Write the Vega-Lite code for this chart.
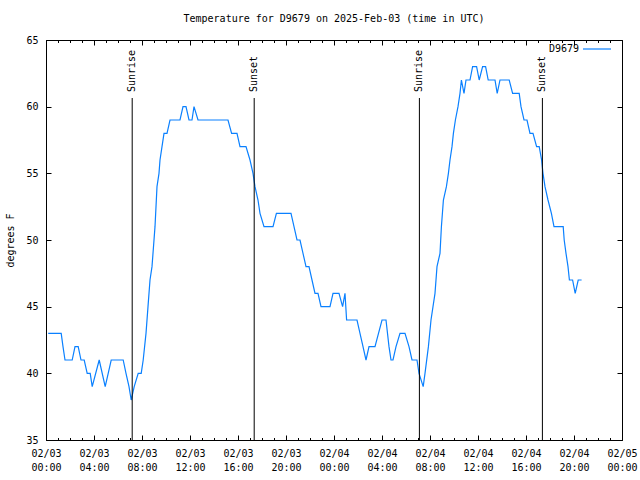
{
  "$schema": "https://vega.github.io/schema/vega-lite/v6.json",
  "width": 576,
  "height": 400,
  "autosize": "none",
  "padding": {"left": 46, "top": 40, "right": 18, "bottom": 40},
  "background": "white",
  "config": {
    "font": "DejaVu Sans Mono",
    "view": {"stroke": "black", "strokeWidth": 1},
    "axis": {"domain": false, "grid": false, "labelFont": "DejaVu Sans Mono", "labelFontSize": 10, "labelColor": "black", "tickColor": "black", "titleFont": "DejaVu Sans Mono", "titleFontSize": 10, "titleFontWeight": "normal", "titleColor": "black"}
  },
  "title": {"text": "Temperature for D9679 on 2025-Feb-03 (time in UTC)", "font": "DejaVu Sans Mono", "fontSize": 10, "fontWeight": "normal", "color": "black", "offset": 10},
  "datasets": {
    "temps": [
      {"time": "2025-02-03T00:11:00Z", "temp": 43},
      {"time": "2025-02-03T01:16:00Z", "temp": 43},
      {"time": "2025-02-03T01:25:00Z", "temp": 42},
      {"time": "2025-02-03T01:35:00Z", "temp": 41},
      {"time": "2025-02-03T02:11:00Z", "temp": 41},
      {"time": "2025-02-03T02:25:00Z", "temp": 42},
      {"time": "2025-02-03T02:41:00Z", "temp": 42},
      {"time": "2025-02-03T02:55:00Z", "temp": 41},
      {"time": "2025-02-03T03:11:00Z", "temp": 41},
      {"time": "2025-02-03T03:26:00Z", "temp": 40},
      {"time": "2025-02-03T03:41:00Z", "temp": 40},
      {"time": "2025-02-03T03:51:00Z", "temp": 39},
      {"time": "2025-02-03T04:26:00Z", "temp": 41},
      {"time": "2025-02-03T04:56:00Z", "temp": 39},
      {"time": "2025-02-03T05:26:00Z", "temp": 41},
      {"time": "2025-02-03T06:26:00Z", "temp": 41},
      {"time": "2025-02-03T06:40:00Z", "temp": 40},
      {"time": "2025-02-03T06:55:00Z", "temp": 39},
      {"time": "2025-02-03T07:06:00Z", "temp": 38},
      {"time": "2025-02-03T07:21:00Z", "temp": 39},
      {"time": "2025-02-03T07:41:00Z", "temp": 40},
      {"time": "2025-02-03T07:56:00Z", "temp": 40},
      {"time": "2025-02-03T08:06:00Z", "temp": 41},
      {"time": "2025-02-03T08:20:00Z", "temp": 43},
      {"time": "2025-02-03T08:30:00Z", "temp": 45},
      {"time": "2025-02-03T08:40:00Z", "temp": 47},
      {"time": "2025-02-03T08:50:00Z", "temp": 48},
      {"time": "2025-02-03T09:05:00Z", "temp": 51},
      {"time": "2025-02-03T09:15:00Z", "temp": 54},
      {"time": "2025-02-03T09:25:00Z", "temp": 55},
      {"time": "2025-02-03T09:30:00Z", "temp": 56},
      {"time": "2025-02-03T09:40:00Z", "temp": 57},
      {"time": "2025-02-03T09:50:00Z", "temp": 58},
      {"time": "2025-02-03T10:05:00Z", "temp": 58},
      {"time": "2025-02-03T10:20:00Z", "temp": 59},
      {"time": "2025-02-03T11:10:00Z", "temp": 59},
      {"time": "2025-02-03T11:25:00Z", "temp": 60},
      {"time": "2025-02-03T11:40:00Z", "temp": 60},
      {"time": "2025-02-03T11:55:00Z", "temp": 59},
      {"time": "2025-02-03T12:10:00Z", "temp": 59},
      {"time": "2025-02-03T12:20:00Z", "temp": 60},
      {"time": "2025-02-03T12:40:00Z", "temp": 59},
      {"time": "2025-02-03T15:10:00Z", "temp": 59},
      {"time": "2025-02-03T15:28:00Z", "temp": 58},
      {"time": "2025-02-03T15:55:00Z", "temp": 58},
      {"time": "2025-02-03T16:10:00Z", "temp": 57},
      {"time": "2025-02-03T16:40:00Z", "temp": 57},
      {"time": "2025-02-03T17:00:00Z", "temp": 56},
      {"time": "2025-02-03T17:15:00Z", "temp": 55},
      {"time": "2025-02-03T17:25:00Z", "temp": 54},
      {"time": "2025-02-03T17:40:00Z", "temp": 53},
      {"time": "2025-02-03T17:50:00Z", "temp": 52},
      {"time": "2025-02-03T18:10:00Z", "temp": 51},
      {"time": "2025-02-03T18:55:00Z", "temp": 51},
      {"time": "2025-02-03T19:12:00Z", "temp": 52},
      {"time": "2025-02-03T20:25:00Z", "temp": 52},
      {"time": "2025-02-03T20:40:00Z", "temp": 51},
      {"time": "2025-02-03T20:55:00Z", "temp": 50},
      {"time": "2025-02-03T21:10:00Z", "temp": 50},
      {"time": "2025-02-03T21:25:00Z", "temp": 49},
      {"time": "2025-02-03T21:40:00Z", "temp": 48},
      {"time": "2025-02-03T21:55:00Z", "temp": 48},
      {"time": "2025-02-03T22:10:00Z", "temp": 47},
      {"time": "2025-02-03T22:25:00Z", "temp": 46},
      {"time": "2025-02-03T22:40:00Z", "temp": 46},
      {"time": "2025-02-03T22:55:00Z", "temp": 45},
      {"time": "2025-02-03T23:40:00Z", "temp": 45},
      {"time": "2025-02-03T23:55:00Z", "temp": 46},
      {"time": "2025-02-04T00:25:00Z", "temp": 46},
      {"time": "2025-02-04T00:43:00Z", "temp": 45},
      {"time": "2025-02-04T00:55:00Z", "temp": 46},
      {"time": "2025-02-04T01:03:00Z", "temp": 44},
      {"time": "2025-02-04T01:55:00Z", "temp": 44},
      {"time": "2025-02-04T02:10:00Z", "temp": 43},
      {"time": "2025-02-04T02:25:00Z", "temp": 42},
      {"time": "2025-02-04T02:40:00Z", "temp": 41},
      {"time": "2025-02-04T02:55:00Z", "temp": 42},
      {"time": "2025-02-04T03:25:00Z", "temp": 42},
      {"time": "2025-02-04T04:00:00Z", "temp": 44},
      {"time": "2025-02-04T04:20:00Z", "temp": 44},
      {"time": "2025-02-04T04:35:00Z", "temp": 42},
      {"time": "2025-02-04T04:45:00Z", "temp": 41},
      {"time": "2025-02-04T04:55:00Z", "temp": 41},
      {"time": "2025-02-04T05:10:00Z", "temp": 42},
      {"time": "2025-02-04T05:30:00Z", "temp": 43},
      {"time": "2025-02-04T05:55:00Z", "temp": 43},
      {"time": "2025-02-04T06:15:00Z", "temp": 42},
      {"time": "2025-02-04T06:30:00Z", "temp": 41},
      {"time": "2025-02-04T06:55:00Z", "temp": 41},
      {"time": "2025-02-04T07:05:00Z", "temp": 40},
      {"time": "2025-02-04T07:26:00Z", "temp": 39},
      {"time": "2025-02-04T07:35:00Z", "temp": 40},
      {"time": "2025-02-04T07:52:00Z", "temp": 42},
      {"time": "2025-02-04T08:05:00Z", "temp": 44},
      {"time": "2025-02-04T08:15:00Z", "temp": 45},
      {"time": "2025-02-04T08:25:00Z", "temp": 46},
      {"time": "2025-02-04T08:35:00Z", "temp": 48},
      {"time": "2025-02-04T08:50:00Z", "temp": 49},
      {"time": "2025-02-04T08:57:00Z", "temp": 51},
      {"time": "2025-02-04T09:07:00Z", "temp": 53},
      {"time": "2025-02-04T09:22:00Z", "temp": 54},
      {"time": "2025-02-04T09:32:00Z", "temp": 55},
      {"time": "2025-02-04T09:40:00Z", "temp": 56},
      {"time": "2025-02-04T09:50:00Z", "temp": 57},
      {"time": "2025-02-04T09:57:00Z", "temp": 58},
      {"time": "2025-02-04T10:07:00Z", "temp": 59},
      {"time": "2025-02-04T10:20:00Z", "temp": 60},
      {"time": "2025-02-04T10:30:00Z", "temp": 61},
      {"time": "2025-02-04T10:37:00Z", "temp": 62},
      {"time": "2025-02-04T10:50:00Z", "temp": 61},
      {"time": "2025-02-04T11:00:00Z", "temp": 62},
      {"time": "2025-02-04T11:20:00Z", "temp": 62},
      {"time": "2025-02-04T11:33:00Z", "temp": 63},
      {"time": "2025-02-04T11:53:00Z", "temp": 63},
      {"time": "2025-02-04T12:06:00Z", "temp": 62},
      {"time": "2025-02-04T12:23:00Z", "temp": 63},
      {"time": "2025-02-04T12:38:00Z", "temp": 63},
      {"time": "2025-02-04T12:51:00Z", "temp": 62},
      {"time": "2025-02-04T13:25:00Z", "temp": 62},
      {"time": "2025-02-04T13:36:00Z", "temp": 61},
      {"time": "2025-02-04T13:50:00Z", "temp": 62},
      {"time": "2025-02-04T14:36:00Z", "temp": 62},
      {"time": "2025-02-04T14:53:00Z", "temp": 61},
      {"time": "2025-02-04T15:26:00Z", "temp": 61},
      {"time": "2025-02-04T15:35:00Z", "temp": 60},
      {"time": "2025-02-04T15:50:00Z", "temp": 59},
      {"time": "2025-02-04T16:05:00Z", "temp": 59},
      {"time": "2025-02-04T16:20:00Z", "temp": 58},
      {"time": "2025-02-04T16:35:00Z", "temp": 58},
      {"time": "2025-02-04T16:53:00Z", "temp": 57},
      {"time": "2025-02-04T17:06:00Z", "temp": 57},
      {"time": "2025-02-04T17:18:00Z", "temp": 56},
      {"time": "2025-02-04T17:25:00Z", "temp": 55},
      {"time": "2025-02-04T17:35:00Z", "temp": 54},
      {"time": "2025-02-04T17:50:00Z", "temp": 53},
      {"time": "2025-02-04T18:07:00Z", "temp": 52},
      {"time": "2025-02-04T18:20:00Z", "temp": 51},
      {"time": "2025-02-04T19:06:00Z", "temp": 51},
      {"time": "2025-02-04T19:11:00Z", "temp": 50},
      {"time": "2025-02-04T19:20:00Z", "temp": 49},
      {"time": "2025-02-04T19:30:00Z", "temp": 48},
      {"time": "2025-02-04T19:37:00Z", "temp": 47},
      {"time": "2025-02-04T19:53:00Z", "temp": 47},
      {"time": "2025-02-04T20:06:00Z", "temp": 46},
      {"time": "2025-02-04T20:21:00Z", "temp": 47},
      {"time": "2025-02-04T20:38:00Z", "temp": 47}
    ],
    "events": [
      {"time": "2025-02-03T07:11:00Z", "label": "Sunrise"},
      {"time": "2025-02-03T17:21:00Z", "label": "Sunset"},
      {"time": "2025-02-04T07:07:00Z", "label": "Sunrise"},
      {"time": "2025-02-04T17:22:00Z", "label": "Sunset"}
    ]
  },
  "layer": [
    {
      "data": {"name": "temps"},
      "mark": {"type": "line", "strokeWidth": 1.2, "color": "#0a80ff"},
      "encoding": {
        "x": {
          "field": "time", "type": "temporal",
          "scale": {"type": "utc", "domain": [1738540800000, 1738713600000]},
          "axis": {
            "orient": "bottom", "title": null,
            "values": [1738540800000, 1738555200000, 1738569600000, 1738584000000, 1738598400000, 1738612800000, 1738627200000, 1738641600000, 1738656000000, 1738670400000, 1738684800000, 1738699200000, 1738713600000],
            "tickSize": -5,
            "labelExpr": "[utcFormat(datum.value, '%m/%d'), utcFormat(datum.value, '%H:%M')]",
            "labelOverlap": false, "labelFlush": false, "labelPadding": 13, "labelLineHeight": 14, "labelAngle": 0
          }
        },
        "y": {
          "field": "temp", "type": "quantitative",
          "scale": {"domain": [35, 65], "nice": false, "zero": false},
          "axis": {"orient": "left", "title": "degrees F", "values": [35, 40, 45, 50, 55, 60, 65], "tickSize": -5, "labelPadding": 13, "titlePadding": 10}
        },
        "color": {
          "datum": "D9679", "type": "nominal",
          "scale": {"range": ["#0a80ff"]},
          "legend": {
            "title": null, "orient": "none", "legendX": 536, "legendY": -6,
            "symbolType": "stroke", "symbolSize": 784, "symbolStrokeWidth": 1.2,
            "labelAlign": "right", "labelOffset": -33, "labelFont": "DejaVu Sans Mono", "labelFontSize": 10, "labelColor": "black", "padding": 0
          }
        }
      }
    },
    {
      "data": {"name": "events"},
      "mark": {"type": "rule", "color": "black", "strokeWidth": 1},
      "encoding": {
        "x": {
          "field": "time", "type": "temporal",
          "axis": {
            "orient": "top", "title": null, "labels": false, "tickSize": -5,
            "values": [1738540800000, 1738555200000, 1738569600000, 1738584000000, 1738598400000, 1738612800000, 1738627200000, 1738641600000, 1738656000000, 1738670400000, 1738684800000, 1738699200000, 1738713600000]
          }
        },
        "y": {"datum": 60.65, "type": "quantitative", "axis": {"orient": "right", "title": null, "labels": false, "values": [35, 40, 45, 50, 55, 60, 65], "tickSize": -5}},
        "y2": {"datum": 35}
      }
    },
    {
      "data": {"name": "events"},
      "mark": {"type": "text", "angle": 270, "align": "left", "baseline": "middle", "font": "DejaVu Sans Mono", "fontSize": 10, "color": "black"},
      "encoding": {
        "x": {
          "field": "time", "type": "temporal",
          "axis": {
            "orient": "bottom", "title": null, "labels": false, "tickSize": -2.5,
            "values": [1738540800000, 1738544400000, 1738548000000, 1738551600000, 1738555200000, 1738558800000, 1738562400000, 1738566000000, 1738569600000, 1738573200000, 1738576800000, 1738580400000, 1738584000000, 1738587600000, 1738591200000, 1738594800000, 1738598400000, 1738602000000, 1738605600000, 1738609200000, 1738612800000, 1738616400000, 1738620000000, 1738623600000, 1738627200000, 1738630800000, 1738634400000, 1738638000000, 1738641600000, 1738645200000, 1738648800000, 1738652400000, 1738656000000, 1738659600000, 1738663200000, 1738666800000, 1738670400000, 1738674000000, 1738677600000, 1738681200000, 1738684800000, 1738688400000, 1738692000000, 1738695600000, 1738699200000, 1738702800000, 1738706400000, 1738710000000, 1738713600000]
          }
        },
        "y": {"datum": 61.1, "type": "quantitative", "axis": null},
        "text": {"field": "label"}
      }
    },
    {
      "data": {"name": "events"},
      "mark": {"type": "rule", "opacity": 0},
      "encoding": {
        "x": {
          "field": "time", "type": "temporal",
          "axis": {
            "orient": "top", "title": null, "labels": false, "tickSize": -2.5,
            "values": [1738540800000, 1738544400000, 1738548000000, 1738551600000, 1738555200000, 1738558800000, 1738562400000, 1738566000000, 1738569600000, 1738573200000, 1738576800000, 1738580400000, 1738584000000, 1738587600000, 1738591200000, 1738594800000, 1738598400000, 1738602000000, 1738605600000, 1738609200000, 1738612800000, 1738616400000, 1738620000000, 1738623600000, 1738627200000, 1738630800000, 1738634400000, 1738638000000, 1738641600000, 1738645200000, 1738648800000, 1738652400000, 1738656000000, 1738659600000, 1738663200000, 1738666800000, 1738670400000, 1738674000000, 1738677600000, 1738681200000, 1738684800000, 1738688400000, 1738692000000, 1738695600000, 1738699200000, 1738702800000, 1738706400000, 1738710000000, 1738713600000]
          }
        },
        "y": {"datum": 61.1, "type": "quantitative", "axis": null}
      }
    }
  ],
  "resolve": {"axis": {"x": "independent", "y": "independent"}}
}
